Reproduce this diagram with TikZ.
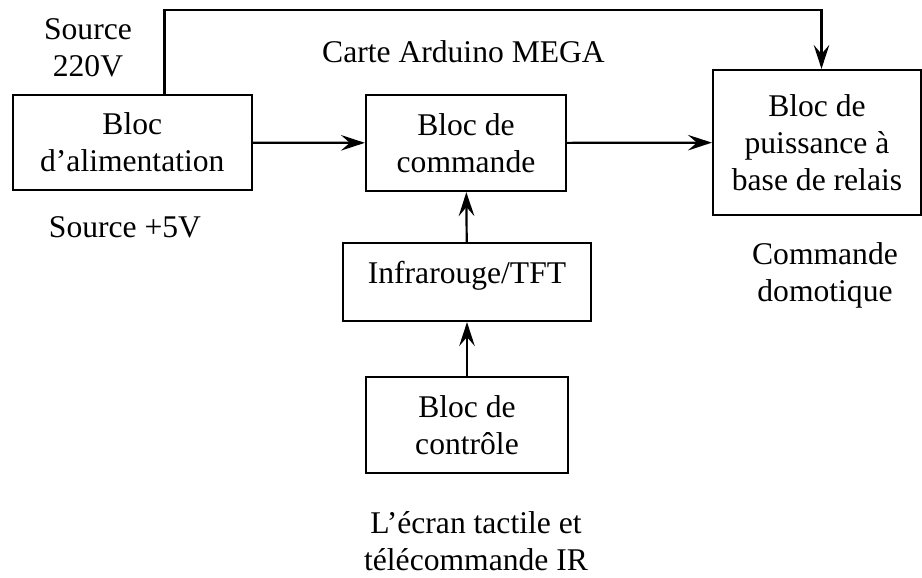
\documentclass[tikz,border=0pt]{standalone}
\usepackage{fontspec}
\setmainfont{Liberation Serif}
\usetikzlibrary{arrows.meta,positioning}

\begin{document}
\begin{tikzpicture}[
    x=0.5pt, y=-0.5pt,
    every node/.style={font=\fontsize{15.8}{18.4}\selectfont, align=center},
    bloc/.style={
        rectangle,
        draw,
        line width=1.1pt,
        inner sep=0pt
    },
    fleche/.style={-{Stealth[length=12pt, width=7.8pt, inset=4.5pt]}, line width=1.1pt}
]
    \useasboundingbox (0,0) rectangle (922,578);

    % Blocs
    \node[bloc, minimum width=119.6pt, minimum height=47.5pt] (alim) at (132.3,142.5)
         {Bloc\\d’alimentation};
    \node[bloc, minimum width=100pt, minimum height=48pt] (cmd) at (466,143)
         {Bloc de\\commande};
    \node[bloc, minimum width=104pt, minimum height=72.5pt] (puiss) at (817,142.5)
         {Bloc de\\puissance à\\base de relais};
    \node[bloc, minimum width=124pt, minimum height=39pt, text depth=9.5pt] (ir) at (467,282)
         {Infrarouge/TFT};
    \node[bloc, minimum width=101pt, minimum height=48pt] (ctrl) at (467,425)
         {Bloc de\\contrôle};

    % Textes
    \node (src220) at (88,48) {Source\\220V};
    \node (carte) at (463.5,52) {Carte Arduino MEGA};
    \node (src5) at (125,227) {Source +5V};
    \node (domo) at (825,275) {Commande\\domotique};
    \node (ecran) at (476,541) {L’écran tactile et\\télécommande IR};

    % Connexions
    \coordinate (haut1) at (164.5,10);
    \coordinate (haut2) at (821.5,10);
    \draw[fleche] (haut1 |- alim.north) -- (haut1) -- (haut2) -- (haut2 |- puiss.north);
    \draw[fleche] (alim) -- (cmd);
    \draw[fleche] (cmd) -- (puiss);
    \draw[fleche] (ir) -- (cmd);
    \draw[fleche] (ctrl) -- (ir);
\end{tikzpicture}
\end{document}
